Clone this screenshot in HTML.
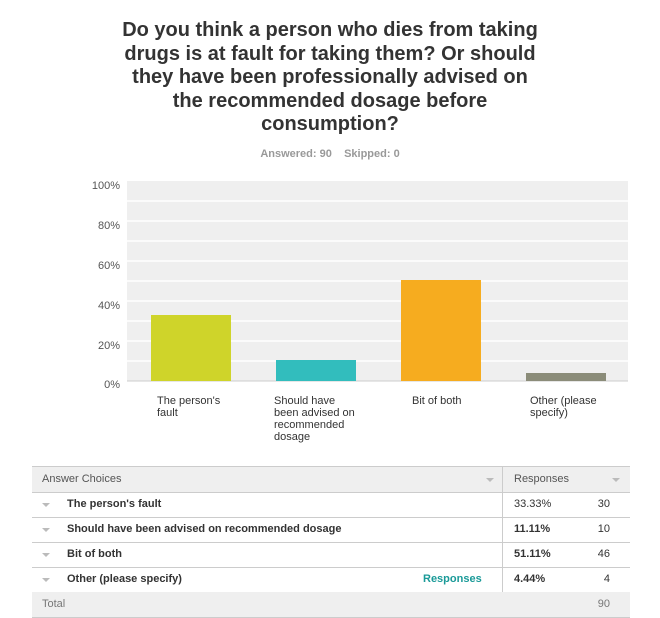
<!DOCTYPE html>
<html><head><style>
body{margin:0;width:660px;height:618px;background:#fff;font-family:"Liberation Sans",Arial,sans-serif;position:relative;overflow:hidden}
.t{position:absolute;left:80px;width:500px;top:19px;text-align:center;font-weight:bold;font-size:20px;line-height:23.5px;color:#333;white-space:nowrap}
.a{position:absolute;left:0;width:660px;top:148px;text-align:center;font-weight:bold;font-size:11px;color:#999}
.ab{position:absolute}
.yl{position:absolute;right:540px;font-size:11px;color:#555}
.xl{position:absolute;top:395px;font-size:11px;color:#333;line-height:12px}
.tb{position:absolute;left:32px;width:598px;font-size:11px;color:#333}
.row{position:absolute;left:0;width:598px;height:25px;border-bottom:1px solid #ccc;line-height:25px}
.tri{position:absolute;left:10px;top:11px;width:0;height:0;border-left:4px solid transparent;border-right:4px solid transparent;border-top:4px solid #bbb}
</style></head><body>
<div class="t">Do you think a person who dies from taking<br>drugs is at fault for taking them? Or should<br>they have been professionally advised on<br>the recommended dosage before<br>consumption?</div>
<div class="a">Answered: 90&nbsp;&nbsp;&nbsp;&nbsp;Skipped: 0</div>
<svg class="ab" style="left:0;top:0" width="660" height="460">
<rect x="127" y="181" width="501" height="200" fill="#efefef"/>
<g stroke="#fff" stroke-width="1.5">
<line x1="127" x2="628" y1="201" y2="201"/><line x1="127" x2="628" y1="221" y2="221"/><line x1="127" x2="628" y1="241" y2="241"/><line x1="127" x2="628" y1="261" y2="261"/><line x1="127" x2="628" y1="281" y2="281"/><line x1="127" x2="628" y1="301" y2="301"/><line x1="127" x2="628" y1="321" y2="321"/><line x1="127" x2="628" y1="341" y2="341"/><line x1="127" x2="628" y1="361" y2="361"/>
</g>
<line x1="127" x2="628" y1="381" y2="381" stroke="#ccc"/>
<rect x="151" y="315" width="80" height="66" fill="#cfd42a"/>
<rect x="276" y="360" width="80" height="21" fill="#32bdbd"/>
<rect x="401" y="280" width="80" height="101" fill="#f6ac1f"/>
<rect x="526" y="373" width="80" height="8" fill="#8b8c79"/>
</svg>
<div class="yl" style="top:180px">100%</div>
<div class="yl" style="top:220px">80%</div>
<div class="yl" style="top:260px">60%</div>
<div class="yl" style="top:300px">40%</div>
<div class="yl" style="top:340px">20%</div>
<div class="yl" style="top:379px">0%</div>
<div class="xl" style="left:157px">The person's<br>fault</div>
<div class="xl" style="left:274px">Should have<br>been advised on<br>recommended<br>dosage</div>
<div class="xl" style="left:412px">Bit of both</div>
<div class="xl" style="left:530px">Other (please<br>specify)</div>
<div class="tb" style="top:466px;height:151px;border-top:1px solid #ccc">
<div class="row" style="top:0;background:#efefef;color:#555">
<span style="position:absolute;left:10px">Answer Choices</span>
<div class="tri" style="left:454px"></div>
<span style="position:absolute;left:482px">Responses</span>
<div class="tri" style="left:580px"></div></div>
<div class="row" style="top:25px;font-weight:bold"><div class="tri"></div><span style="position:absolute;left:35px">The person's fault</span><span style="position:absolute;left:482px;font-weight:normal">33.33%</span><span style="position:absolute;right:20px;font-weight:normal">30</span></div>
<div class="row" style="top:50px;font-weight:bold"><div class="tri"></div><span style="position:absolute;left:35px">Should have been advised on recommended dosage</span><span style="position:absolute;left:482px">11.11%</span><span style="position:absolute;right:20px;font-weight:normal">10</span></div>
<div class="row" style="top:75px;font-weight:bold"><div class="tri"></div><span style="position:absolute;left:35px">Bit of both</span><span style="position:absolute;left:482px">51.11%</span><span style="position:absolute;right:20px;font-weight:normal">46</span></div>
<div class="row" style="top:100px;font-weight:bold"><div class="tri"></div><span style="position:absolute;left:35px">Other (please specify)</span><span style="position:absolute;left:391px;color:#1a9a98">Responses</span><span style="position:absolute;left:482px">4.44%</span><span style="position:absolute;right:20px;font-weight:normal">4</span></div>
<div style="position:absolute;left:470px;top:0;width:1px;height:125px;background:#ccc"></div>
<div class="row" style="top:125px;background:#efefef;color:#777"><span style="position:absolute;left:10px">Total</span><span style="position:absolute;right:20px">90</span></div>
</div>
</body></html>
